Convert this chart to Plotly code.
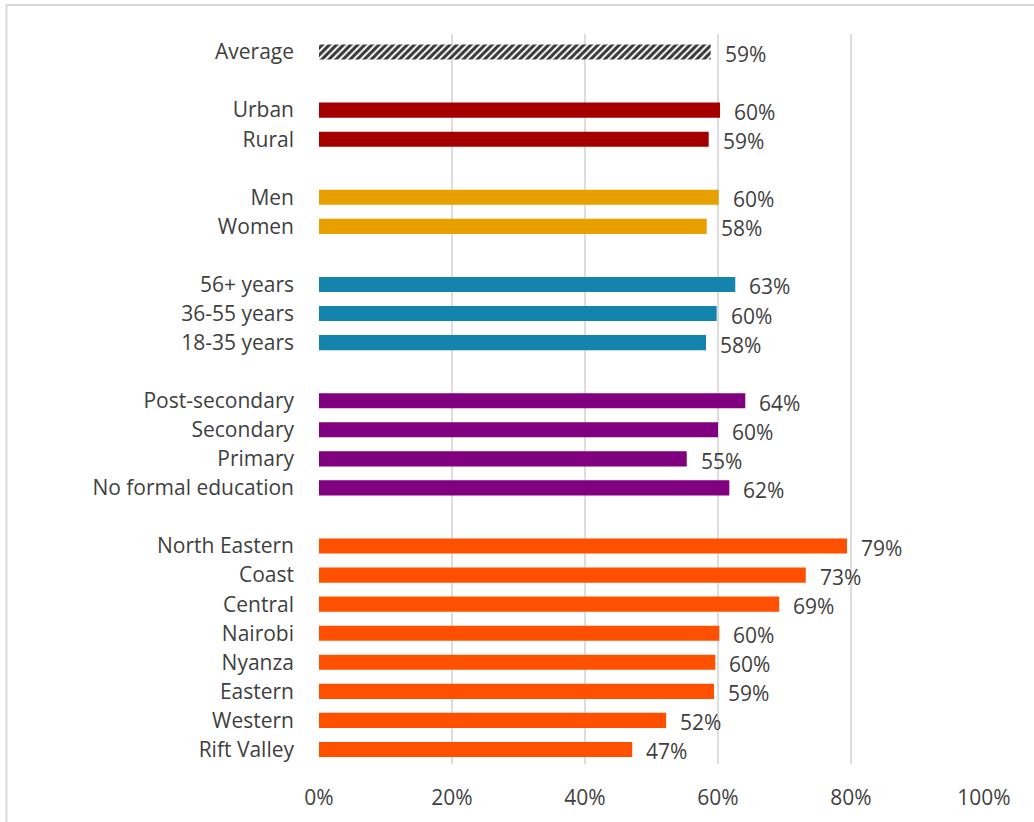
import plotly.graph_objects as go

# ---- data ----
avg_labels = ["Average"]
avg_values = [58.9]

loc_labels = ["Urban", "Rural"]
loc_values = [60.3, 58.6]

sex_labels = ["Men", "Women"]
sex_values = [60.1, 58.3]

age_labels = ["56+ years", "36-55 years", "18-35 years"]
age_values = [62.6, 59.8, 58.2]

edu_labels = ["Post-secondary", "Secondary", "Primary", "No formal education"]
edu_values = [64.1, 60.0, 55.3, 61.7]

reg_labels = ["North Eastern", "Coast", "Central", "Nairobi", "Nyanza",
              "Eastern", "Western", "Rift Valley"]
reg_values = [79.4, 73.2, 69.2, 60.2, 59.6, 59.4, 52.2, 47.1]

x_tick_vals = [0, 20, 40, 60, 80, 100]
x_tick_text = ["0%", "20%", "40%", "60%", "80%", "100%"]

# category order with blank spacer rows
category_order = (avg_labels + [" "] + loc_labels + ["  "] + sex_labels + ["   "]
                  + age_labels + ["    "] + edu_labels + ["     "] + reg_labels)

TEXT = "#3F3F3F"
FONT = "Open Sans"
FS = 21

groups = [
    (loc_labels, loc_values, "#A50000"),
    (sex_labels, sex_values, "#E8A000"),
    (age_labels, age_values, "#1385AD"),
    (edu_labels, edu_values, "#800080"),
    (reg_labels, reg_values, "#FF5000"),
]

fig = go.Figure()

fig.add_trace(go.Bar(
    y=avg_labels, x=avg_values, orientation="h", width=0.52,
    marker=dict(color="white", line=dict(width=0),
                pattern=dict(shape="/", fgcolor="#383838", bgcolor="white",
                             fgopacity=1, size=5, solidity=0.6)),
    showlegend=False, hoverinfo="skip",
))

for labels, values, color in groups:
    fig.add_trace(go.Bar(
        y=labels, x=values, orientation="h", width=0.52,
        marker=dict(color=color, line=dict(width=0)),
        showlegend=False, hoverinfo="skip",
    ))

# data labels
all_labels = avg_labels + loc_labels + sex_labels + age_labels + edu_labels + reg_labels
all_values = avg_values + loc_values + sex_values + age_values + edu_values + reg_values
for lab, val in zip(all_labels, all_values):
    fig.add_annotation(
        x=val, y=lab, xref="x", yref="y", text=f"{round(val)}%",
        showarrow=False, xanchor="left", yanchor="middle", xshift=12, yshift=-2,
        font=dict(family=FONT, size=FS, color=TEXT),
    )

# outer border
fig.add_shape(type="rect", xref="paper", yref="paper",
              x0=-0.47, x1=1.09, y0=-0.1, y1=1.0397,
              line=dict(color="#D9D9D9", width=2), fillcolor="rgba(0,0,0,0)", layer="below")

fig.update_layout(
    width=1034, height=822,
    margin=dict(l=319, r=50, t=34, b=58),
    paper_bgcolor="white", plot_bgcolor="white",
    barmode="overlay",
    font=dict(family=FONT, size=FS, color=TEXT),
    xaxis=dict(range=[0, 100], tickvals=x_tick_vals, ticktext=x_tick_text,
               showgrid=True, gridcolor="#DDDDDD", gridwidth=2,
               zeroline=False, showline=False, ticks="",
               ticklabelstandoff=19, tickfont=dict(size=FS, color=TEXT, family=FONT)),
    yaxis=dict(type="category", categoryorder="array", categoryarray=category_order,
               autorange="reversed", showgrid=False, zeroline=False, showline=False,
               ticks="", ticklabelstandoff=24,
               tickfont=dict(size=FS, color=TEXT, family=FONT)),
)

fig.write_html("out.html", config={"displayModeBar": False},
               post_script="document.body.style.margin='0';document.body.style.overflow='hidden';")
